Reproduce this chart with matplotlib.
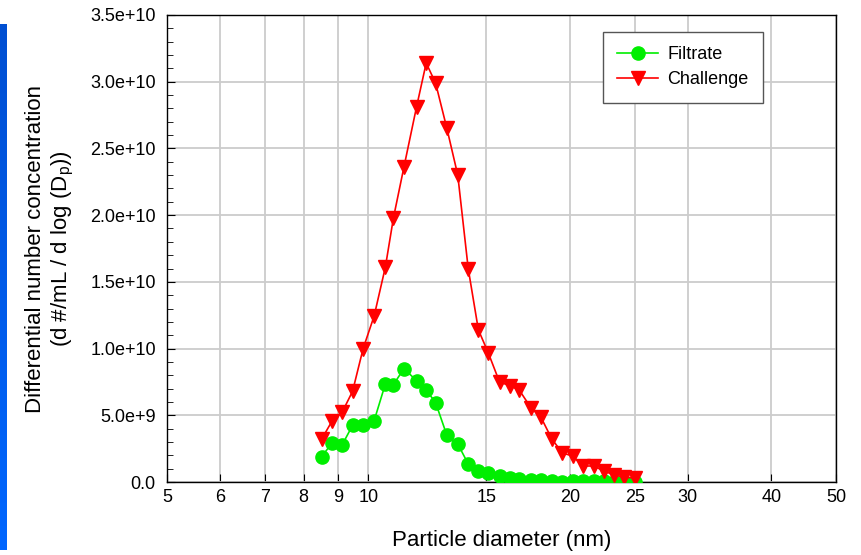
import numpy as np
import matplotlib
matplotlib.use("Agg")
from matplotlib import pyplot as plt
from matplotlib.ticker import FixedLocator, FixedFormatter, NullFormatter, MultipleLocator

plt.rcParams['font.family'] = ['Liberation Sans', 'DejaVu Sans']

# particle diameters (nm), SMPS channel midpoints
diameter = [8.51, 8.82, 9.14, 9.47, 9.82, 10.2, 10.6, 10.9, 11.3, 11.8, 12.2,
            12.6, 13.1, 13.6, 14.1, 14.6, 15.1, 15.7, 16.3, 16.8, 17.5, 18.1,
            18.8, 19.5, 20.2, 20.9, 21.7, 22.5, 23.3, 24.1, 25.0]

filtrate = [1.9e9, 2.9e9, 2.8e9, 4.25e9, 4.25e9, 4.6e9, 7.35e9, 7.3e9, 8.5e9,
            7.6e9, 6.9e9, 5.95e9, 3.5e9, 2.85e9, 1.35e9, 0.85e9, 0.65e9, 0.47e9,
            0.32e9, 0.22e9, 0.14e9, 0.15e9, 0.05e9, 0.02e9, 0.1e9, 0.1e9,
            0.04e9, 0.04e9, 0.02e9, 0.02e9, 0.01e9]

challenge = [3.2e9, 4.55e9, 5.25e9, 6.8e9, 1.0e10, 1.245e10, 1.61e10, 1.98e10,
             2.36e10, 2.81e10, 3.14e10, 2.99e10, 2.65e10, 2.30e10, 1.597e10,
             1.14e10, 0.97e10, 0.75e10, 0.72e10, 0.69e10, 0.555e10, 0.487e10,
             0.322e10, 0.217e10, 0.195e10, 0.12e10, 0.12e10, 0.082e10,
             0.052e10, 0.037e10, 0.03e10]

x_ticks = [5, 6, 7, 8, 9, 10, 15, 20, 25, 30, 40, 50]
y_ticks = [0, 5e9, 1e10, 1.5e10, 2e10, 2.5e10, 3e10, 3.5e10]
y_labels = ['0.0', '5.0e+9', '1.0e+10', '1.5e+10', '2.0e+10', '2.5e+10', '3.0e+10', '3.5e+10']

fig = plt.figure(figsize=(8.62, 5.55), dpi=100)
ax = fig.add_axes([0.1937, 0.1315, 0.7763, 0.8415])

ax.plot(diameter, filtrate, '-o', color='#00ee00', mfc='#00ee00', mec='#00ee00',
        ms=9.5, lw=1.2, label='Filtrate', zorder=3)
ax.plot(diameter, challenge, '-v', color='#ff0000', mfc='#ff0000', mec='#ff0000',
        ms=9.5, lw=1.2, label='Challenge', zorder=4)

ax.set_xscale('log')
ax.set_xlim(5, 50)
ax.set_ylim(0, 3.5e10)
ax.xaxis.set_major_locator(FixedLocator(x_ticks))
ax.xaxis.set_major_formatter(FixedFormatter([str(t) for t in x_ticks]))
ax.xaxis.set_minor_locator(FixedLocator([]))
ax.xaxis.set_minor_formatter(NullFormatter())
ax.yaxis.set_major_locator(FixedLocator(y_ticks))
ax.yaxis.set_major_formatter(FixedFormatter(y_labels))
ax.yaxis.set_minor_locator(MultipleLocator(1e9))

ax.tick_params(which='both', direction='in', labelsize=13, colors='black')
ax.tick_params(which='major', length=6)
ax.tick_params(which='minor', length=4)
ax.tick_params(axis='y', pad=8)
ax.tick_params(axis='x', pad=5)

ax.grid(True, which='major', color='#cccccc', lw=1.3)
ax.set_axisbelow(True)
for s in ax.spines.values():
    s.set_linewidth(1.0)

ax.set_xlabel('Particle diameter (nm)', fontsize=16, labelpad=17)
ax.set_ylabel('Differential number concentration\n(d #/mL / d log (D$_\\mathregular{p}$))',
              fontsize=16, labelpad=10, linespacing=1.25)

leg = ax.legend(loc='upper right', bbox_to_anchor=(0.891, 0.964), borderaxespad=0,
                fontsize=13, fancybox=False, framealpha=1, edgecolor='#555555',
                handlelength=2.3, borderpad=0.8, labelspacing=0.45, handletextpad=0.5)
leg.get_frame().set_linewidth(1.0)

# blue strip on the left edge
bar = fig.add_axes([0, 0.009, 0.0081, 0.948])
grad = np.linspace(0, 1, 256).reshape(-1, 1)
bar.imshow(grad, aspect='auto', cmap=matplotlib.colors.LinearSegmentedColormap.from_list(
    'b', ['#004fd2', '#0066ff']))
bar.axis('off')

fig.savefig('out.png', dpi=100)
plt.close()
